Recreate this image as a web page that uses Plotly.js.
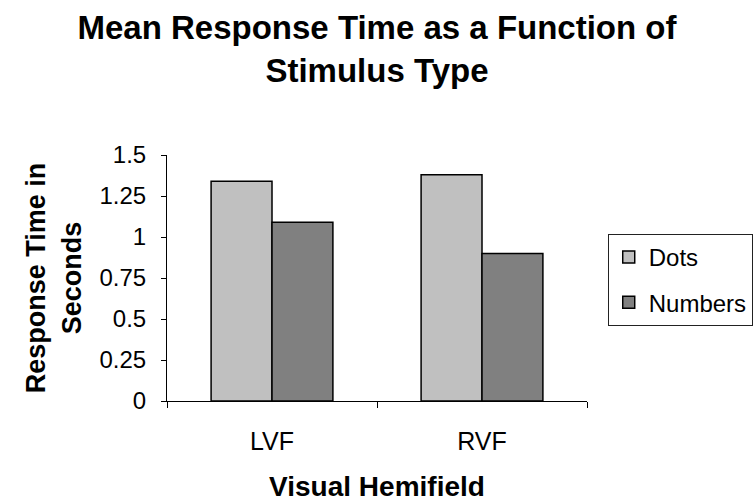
<!DOCTYPE html>
<html><head><meta charset="utf-8">
<script src="https://cdn.plot.ly/plotly-3.0.1.min.js"></script>
<style>html,body{margin:0;padding:0;background:#fff}#chart{width:754px;height:502px}</style>
</head><body><div id="chart"></div>
<script>
const categories = ["LVF", "RVF"];
const dots = [1.34, 1.38];
const numbers = [1.09, 0.90];
const yTicks = [0, 0.25, 0.5, 0.75, 1, 1.25, 1.5];
const yTickLabels = ["0", "0.25", "0.5", "0.75", "1", "1.25", "1.5"];

const font = "Liberation Sans, Arial, sans-serif";
const data = [
  {type: "bar", name: "Dots", x: categories, y: dots, legendgroup: "a",
   marker: {color: "#c0c0c0", line: {color: "#000", width: 1.5}}},
  {type: "bar", name: "Numbers", x: categories, y: numbers, legendgroup: "b",
   marker: {color: "#808080", line: {color: "#000", width: 1.5}}}
];
const layout = {
  width: 754, height: 502,
  margin: {l: 167, r: 167, t: 155, b: 101},
  paper_bgcolor: "#fff", plot_bgcolor: "#fff",
  font: {family: font, color: "#000", size: 24},
  title: {text: "<b>Mean Response Time as a Function of<br>Stimulus Type</b>",
          font: {family: font, size: 33, color: "#000"},
          x: 0.5, xanchor: "center", y: 0.922, yanchor: "top"},
  barmode: "group", bargap: 0.42, bargroupgap: 0,
  showlegend: true,
  legend: {xref: "container", yref: "container", x: 0.806, xanchor: "left", y: 0.534, yanchor: "top",
           bordercolor: "#222", borderwidth: 1, bgcolor: "#fff",
           font: {family: font, size: 24, color: "#000"},
           traceorder: "grouped", tracegroupgap: 11, itemwidth: 30},
  xaxis: {type: "category", showline: true, linecolor: "#000", linewidth: 1,
          ticks: "outside", tickson: "boundaries", ticklen: 6, tickcolor: "#000",
          ticklabelstandoff: 18, showgrid: false, zeroline: false,
          tickfont: {family: font, size: 25},
          title: {text: "<b>Visual Hemifield</b>", font: {family: font, size: 28}, standoff: 24}},
  yaxis: {range: [0, 1.5], tickvals: yTicks, ticktext: yTickLabels,
          showline: true, linecolor: "#000", linewidth: 1,
          ticks: "outside", ticklen: 5, tickcolor: "#000",
          ticklabelstandoff: 10, showgrid: false, zeroline: false,
          tickfont: {family: font, size: 24},
          title: {text: "<b>Response Time in<br>Seconds</b>", font: {family: font, size: 27}, standoff: 10}}
};
Plotly.newPlot("chart", data, layout, {displayModeBar: false, staticPlot: true});
</script></body></html>
